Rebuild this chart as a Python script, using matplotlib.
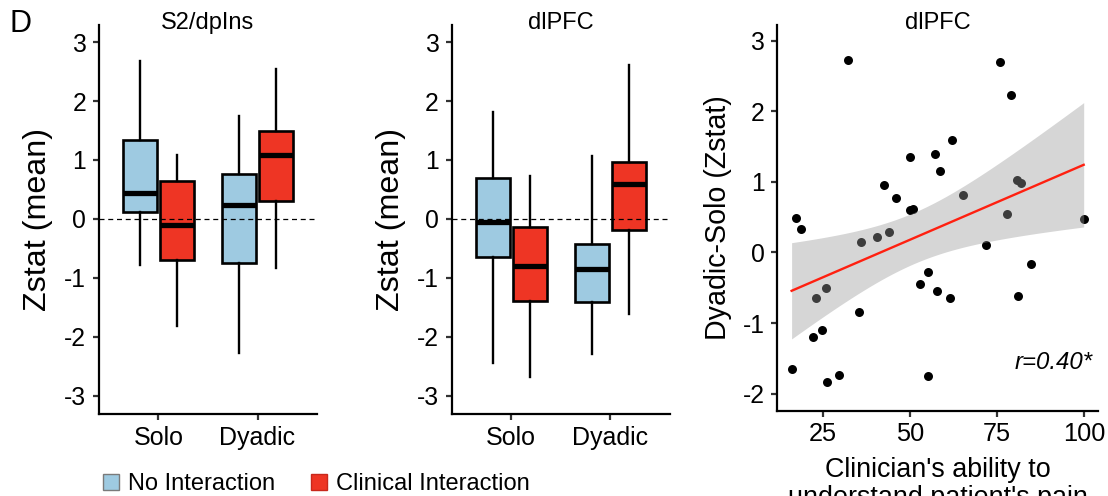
import numpy as np
import matplotlib
matplotlib.use("Agg")
import matplotlib.pyplot as plt
from matplotlib.patches import Patch

plt.rcParams['font.family'] = ['Liberation Sans', 'DejaVu Sans']
plt.rcParams['axes.unicode_minus'] = False

# ---------------- data ----------------
conditions = ["Solo", "Dyadic"]
groups = ["No Interaction", "Clinical Interaction"]
group_colors = ["#9ecae1", "#ee3524"]

# box stats per group: [Solo, Dyadic]  (whislo, q1, med, q3, whishi)
s2_no_whislo = [-0.78, -2.28]
s2_no_q1 = [0.11, -0.75]
s2_no_med = [0.44, 0.23]
s2_no_q3 = [1.34, 0.76]
s2_no_whishi = [2.68, 1.75]

s2_cl_whislo = [-1.82, -0.83]
s2_cl_q1 = [-0.69, 0.30]
s2_cl_med = [-0.11, 1.08]
s2_cl_q3 = [0.64, 1.49]
s2_cl_whishi = [1.08, 2.54]

dl_no_whislo = [-2.45, -2.29]
dl_no_q1 = [-0.65, -1.41]
dl_no_med = [-0.05, -0.85]
dl_no_q3 = [0.69, -0.42]
dl_no_whishi = [1.81, 1.06]

dl_cl_whislo = [-2.68, -1.62]
dl_cl_q1 = [-1.40, -0.18]
dl_cl_med = [-0.80, 0.59]
dl_cl_q3 = [-0.13, 0.97]
dl_cl_whishi = [0.73, 2.61]

# scatter: clinician's ability vs Dyadic-Solo Zstat
ability = [16.1, 17.4, 18.9, 22.3, 23.1, 24.8, 26.0, 26.3, 29.6, 32.2,
           35.4, 36.1, 40.7, 42.7, 44.1, 46.1, 50.0, 50.0, 50.8, 52.9,
           55.2, 55.2, 57.3, 57.9, 58.6, 61.6, 62.0, 65.3, 71.9, 75.9,
           77.9, 78.9, 80.8, 81.0, 81.7, 84.8, 99.8]
dyadic_solo = [-1.65, 0.49, 0.33, -1.20, -0.65, -1.10, -0.51, -1.83, -1.74, 2.72,
               -0.84, 0.15, 0.22, 0.95, 0.29, 0.77, 1.35, 0.60, 0.62, -0.45,
               -0.27, -1.75, 1.40, -0.55, 1.16, -0.65, 1.59, 0.81, 0.10, 2.69,
               0.55, 2.23, 1.03, -0.62, 0.98, -0.17, 0.48]
r_label = "r=0.40*"

yticks_box = [-3, -2, -1, 0, 1, 2, 3]
yticks_sc = [-2, -1, 0, 1, 2, 3]
xticks_sc = [25, 50, 75, 100]

# ---------------- figure ----------------
W, H = 1108, 496
fig = plt.figure(figsize=(W / 100, H / 100), dpi=100)


def fr(x0, x1, ytop, ybot):
    return [x0 / W, 1 - ybot / H, (x1 - x0) / W, (ybot - ytop) / H]


ax1 = fig.add_axes(fr(99, 317, 25, 414))
ax2 = fig.add_axes(fr(451.7, 670, 25, 414))
ax3 = fig.add_axes(fr(777.3, 1098, 25, 410.7))


def style_axis(ax):
    for s in ["top", "right"]:
        ax.spines[s].set_visible(False)
    for s in ["left", "bottom"]:
        ax.spines[s].set_linewidth(1.6)
    ax.tick_params(axis="both", width=1.6, length=4.3, labelsize=17.8,
                   color="#333333", labelcolor="black", pad=5)


def box_panel(ax, title, stats_no, stats_cl):
    style_axis(ax)
    pos = np.arange(1, len(conditions) + 1)
    offs = [-0.1875, 0.1875]
    for gi, st in enumerate([stats_no, stats_cl]):
        whislo, q1, med, q3, whishi = st
        bstats = [dict(whislo=whislo[i], q1=q1[i], med=med[i], q3=q3[i],
                       whishi=whishi[i]) for i in range(len(conditions))]
        ax.bxp(bstats, positions=pos + offs[gi], widths=0.345,
               showcaps=False, showfliers=False, patch_artist=True,
               boxprops=dict(facecolor=group_colors[gi], edgecolor="black",
                             linewidth=1.9),
               whiskerprops=dict(color="black", linewidth=1.7),
               medianprops=dict(color="black", linewidth=3.8,
                                solid_capstyle="butt"),
               manage_ticks=False, zorder=3)
    ax.axhline(0, color="black", linewidth=0.9, linestyle=(0, (4, 3)),
               zorder=4)
    ax.set_xlim(0.4, 2.6)
    ax.set_ylim(-3.31, 3.29)
    ax.set_xticks(pos)
    ax.set_xticklabels(conditions)
    ax.set_yticks(yticks_box)
    ax.set_yticklabels([str(v) for v in yticks_box])
    ax.tick_params(axis="x", labelsize=18, pad=4)
    ax.set_ylabel("Zstat (mean)", fontsize=23.2)
    ax.yaxis.set_label_coords(-0.21, 0.5)
    ax.text(0.5, 1.005, title, transform=ax.transAxes, ha="center",
            va="center", fontsize=17)


box_panel(ax1, "S2/dpIns",
          (s2_no_whislo, s2_no_q1, s2_no_med, s2_no_q3, s2_no_whishi),
          (s2_cl_whislo, s2_cl_q1, s2_cl_med, s2_cl_q3, s2_cl_whishi))
box_panel(ax2, "dlPFC",
          (dl_no_whislo, dl_no_q1, dl_no_med, dl_no_q3, dl_no_whishi),
          (dl_cl_whislo, dl_cl_q1, dl_cl_med, dl_cl_q3, dl_cl_whishi))

# ---------------- scatter panel ----------------
style_axis(ax3)
x = np.array(ability)
y = np.array(dyadic_solo)
ax3.scatter(x, y, s=42, color="black", zorder=2, linewidths=0)
b1, b0 = np.polyfit(x, y, 1)
xs = np.linspace(x.min(), x.max(), 100)
yhat = b0 + b1 * xs
n = len(x)
resid = y - (b0 + b1 * x)
se_res = np.sqrt(np.sum(resid ** 2) / (n - 2))
se_fit = se_res * np.sqrt(1 / n + (xs - x.mean()) ** 2 / np.sum((x - x.mean()) ** 2))
tval = 2.03
ax3.fill_between(xs, yhat - tval * se_fit, yhat + tval * se_fit,
                 color="#999999", alpha=0.4, linewidth=0, zorder=3)
ax3.plot(xs, yhat, color="#ff2010", linewidth=1.7, zorder=4)
ax3.set_xlim(12, 103.9)
ax3.set_ylim(-2.24, 3.22)
ax3.set_xticks(xticks_sc)
ax3.set_xticklabels([str(v) for v in xticks_sc])
ax3.set_yticks(yticks_sc)
ax3.set_yticklabels([str(v) for v in yticks_sc])
ax3.tick_params(axis="x", labelsize=18.3, pad=4)
ax3.set_ylabel("Dyadic-Solo (Zstat)", fontsize=20.6)
ax3.yaxis.set_label_coords(-0.142, 0.5)
ax3.set_xlabel("Clinician's ability to\nunderstand patient's pain",
               fontsize=19.4, linespacing=1.1, labelpad=8, va="top")
ax3.text(0.5, 1.005, "dlPFC", transform=ax3.transAxes, ha="center",
         va="center", fontsize=17)
ax3.text(0.982, 0.124, r_label, transform=ax3.transAxes, ha="right",
         va="center", fontsize=17.3, style="italic")

# ---------------- panel letter & legend ----------------
fig.text(9 / W, 1 - 24 / H, "D", fontsize=22, ha="left", va="center")

handles = [Patch(facecolor=group_colors[0], edgecolor="#7a7a7a", linewidth=1),
           Patch(facecolor=group_colors[1], edgecolor="#c8281c", linewidth=1)]
fig.legend(handles, groups, loc="center left",
           bbox_to_anchor=(103 / W, 1 - 484 / H), ncol=2, frameon=False,
           fontsize=17, handlelength=0.68, handleheight=0.68,
           handletextpad=0.38, columnspacing=1.5, borderpad=0,
           borderaxespad=0)

fig.savefig("out.png", dpi=100)
